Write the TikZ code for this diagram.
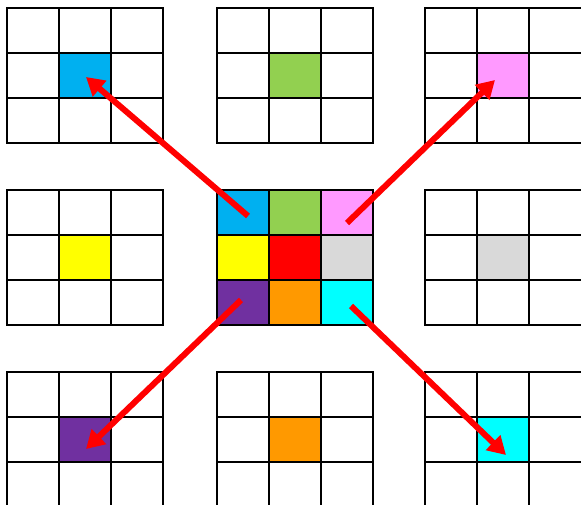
\documentclass[tikz,border=0pt]{standalone}
\usetikzlibrary{arrows.meta}
\definecolor{cblue}{HTML}{00B0F0}
\definecolor{cgreen}{HTML}{92D050}
\definecolor{cpink}{HTML}{FF99FF}
\definecolor{cyellow}{HTML}{FFFF00}
\definecolor{cred}{HTML}{FF0000}
\definecolor{cgray}{HTML}{D9D9D9}
\definecolor{cpurple}{HTML}{7030A0}
\definecolor{corange}{HTML}{FF9900}
\definecolor{ccyan}{HTML}{00FFFF}
\begin{document}
\begin{tikzpicture}[x=1pt,y=-1pt,
  gridline/.style={line width=2.4pt, line cap=rect},
  cell/.style={draw=none, minimum width=52pt, minimum height=45pt, inner sep=0pt, outer sep=0pt, anchor=north west},
  redarrow/.style={draw=red, line width=6pt, -{Triangle[length=18pt,width=20pt]}}]
\useasboundingbox (0,0) rectangle (581,505);
\clip (0,0) rectangle (581,505);
\fill[white] (0,0) rectangle (581,505);
% outer grid highlighted cells
\node[cell, fill=cblue]   (tl) at (59,53) {};
\node[cell, fill=cgreen]  (tm) at (269,53) {};
\node[cell, fill=cpink]   (tr) at (477,53) {};
\node[cell, fill=cyellow] (ml) at (59,235) {};
\node[cell, fill=cgray]   (mr) at (477,235) {};
\node[cell, fill=cpurple] (bl) at (59,417) {};
\node[cell, fill=corange] (bm) at (269,417) {};
\node[cell, fill=ccyan]   (br) at (477,417) {};
% center grid cells
\node[cell, fill=cblue]   (c11) at (217,190) {};
\node[cell, fill=cgreen]  (c12) at (269,190) {};
\node[cell, fill=cpink]   (c13) at (321,190) {};
\node[cell, fill=cyellow] (c21) at (217,235) {};
\node[cell, fill=cred]    (c22) at (269,235) {};
\node[cell, fill=cgray]   (c23) at (321,235) {};
\node[cell, fill=cpurple] (c31) at (217,280) {};
\node[cell, fill=corange] (c32) at (269,280) {};
\node[cell, fill=ccyan]   (c33) at (321,280) {};
% grid lines
\foreach \gx/\gy in {7/8,217/8,425/8,7/190,217/190,425/190,7/372,217/372,425/372}{
  \foreach \i in {0,...,3}{
    \draw[gridline] (\gx,\gy+45*\i) -- (\gx+156,\gy+45*\i);
  }
}
\foreach \gx/\gy in {7/8,217/8,7/190,217/190,7/372,217/372}{
  \foreach \i in {0,...,3}{
    \draw[gridline] (\gx+52*\i,\gy) -- (\gx+52*\i,\gy+135);
  }
}
\foreach \gy in {8,190,372}{
  \foreach \i in {0,1,2}{
    \draw[gridline] (425+52*\i,\gy) -- (425+52*\i,\gy+135);
  }
}
% arrows
\coordinate (a1s) at (248,216); \coordinate (a1e) at (86,77);
\coordinate (a2s) at (347,223); \coordinate (a2e) at (495,80);
\coordinate (a3s) at (241,300); \coordinate (a3e) at (86,449);
\coordinate (a4s) at (351,306); \coordinate (a4e) at (506,455);
\draw[redarrow] (a1s) -- (a1e);
\draw[redarrow] (a2s) -- (a2e);
\draw[redarrow] (a3s) -- (a3e);
\draw[redarrow] (a4s) -- (a4e);
\end{tikzpicture}
\end{document}
